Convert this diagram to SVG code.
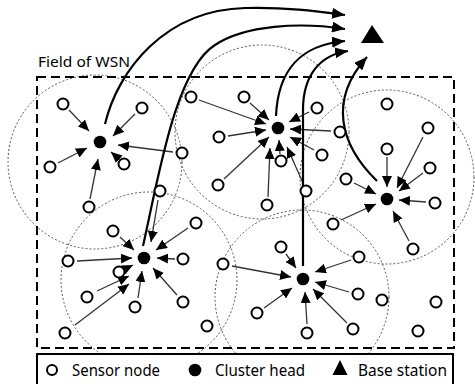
<svg xmlns="http://www.w3.org/2000/svg" width="475" height="384" viewBox="0 0 475 384">
  <style>
    .range { fill: none; stroke: #555; stroke-width: 1; stroke-dasharray: 2 2; }
    .field { fill: none; stroke: #000; stroke-width: 2; stroke-dasharray: 9 5; }
    .sn { fill: #fff; stroke: #000; stroke-width: 2; }
    .ch { fill: #000; }
    .link { stroke: #333; stroke-width: 1.3; fill: none; marker-end: url(#ah); }
    .uplink { stroke: #000; stroke-width: 2.2; fill: none; marker-end: url(#ahBig); }
    .lbl { font-family: "Noto Sans", "Open Sans", "Liberation Sans", sans-serif; fill: #000; }
  </style>
  <defs>
    <marker id="ah" markerUnits="userSpaceOnUse" markerWidth="11" markerHeight="10" refX="11" refY="5" orient="auto">
      <path d="M0,0 L11,5 L0,10 Z" fill="#000"/>
    </marker>
    <marker id="ahBig" markerUnits="userSpaceOnUse" markerWidth="13" markerHeight="11" refX="13" refY="5.5" orient="auto">
      <path d="M0,0 L13,5.5 L0,11 Z" fill="#000"/>
    </marker>
  </defs>

  <rect width="475" height="384" fill="#fff"/>

  <!-- communication ranges of the clusters -->
  <g id="ranges">
    <circle class="range" cx="95" cy="162" r="87"/>
    <circle class="range" cx="262" cy="132" r="87"/>
    <circle class="range" cx="387" cy="177" r="87"/>
    <circle class="range" cx="149" cy="280" r="88"/>
    <circle class="range" cx="302" cy="297" r="87"/>
  </g>

  <!-- deployment field -->
  <g id="field">
    <rect class="field" x="37" y="77" width="417" height="271"/>
    <text class="lbl" x="38" y="67" font-size="15" textLength="92" lengthAdjust="spacingAndGlyphs">Field of WSN</text>
  </g>

  <!-- connectors -->
  <g id="connectors">
    <!-- members to cluster head 1 -->
    <line class="link" x1="69" y1="110" x2="89" y2="131"/>
    <line class="link" x1="135" y1="114" x2="113" y2="136"/>
    <line class="link" x1="173" y1="152" x2="118" y2="145"/>
    <line class="link" x1="119.5" y1="159.5" x2="111" y2="152"/>
    <line class="link" x1="58" y1="163" x2="87" y2="148"/>
    <line class="link" x1="90" y1="199" x2="98" y2="159"/>
    <!-- members to cluster head 2 -->
    <line class="link" x1="199" y1="100" x2="266" y2="124"/>
    <line class="link" x1="250" y1="103" x2="269" y2="120"/>
    <line class="link" x1="228" y1="136" x2="266" y2="130"/>
    <line class="link" x1="224" y1="179" x2="269" y2="137"/>
    <line class="link" x1="280" y1="154" x2="279" y2="140"/>
    <line class="link" x1="268" y1="197" x2="270" y2="148"/>
    <line class="link" x1="303" y1="183" x2="287" y2="147"/>
    <line class="link" x1="309" y1="112" x2="289" y2="122"/>
    <line class="link" x1="331" y1="131" x2="290" y2="129"/>
    <line class="link" x1="314" y1="150" x2="290" y2="137"/>
    <!-- members to cluster head 3 -->
    <line class="link" x1="387" y1="157" x2="387" y2="187"/>
    <line class="link" x1="423" y1="137" x2="397" y2="188"/>
    <line class="link" x1="423" y1="173" x2="399" y2="191"/>
    <line class="link" x1="426" y1="202" x2="399" y2="200"/>
    <line class="link" x1="409" y1="241" x2="393" y2="211"/>
    <line class="link" x1="354" y1="183" x2="376" y2="194"/>
    <line class="link" x1="341" y1="220" x2="376" y2="204"/>
    <!-- members to cluster head 4 -->
    <line class="link" x1="158" y1="200" x2="151" y2="242"/>
    <line class="link" x1="188" y1="228" x2="156" y2="250"/>
    <line class="link" x1="120" y1="237" x2="134" y2="250"/>
    <line class="link" x1="77" y1="261" x2="132" y2="258"/>
    <line class="link" x1="175" y1="259" x2="157" y2="258"/>
    <line class="link" x1="125" y1="269" x2="133" y2="265"/>
    <line class="link" x1="97" y1="291" x2="129" y2="276"/>
    <line class="link" x1="75" y1="325" x2="129" y2="284"/>
    <line class="link" x1="138" y1="298" x2="142" y2="271"/>
    <line class="link" x1="177" y1="295" x2="153" y2="268"/>
    <!-- members to cluster head 5 -->
    <line class="link" x1="286" y1="254" x2="296" y2="268"/>
    <line class="link" x1="232" y1="266" x2="291" y2="277"/>
    <line class="link" x1="264" y1="308" x2="292" y2="288"/>
    <line class="link" x1="307" y1="324" x2="305" y2="292"/>
    <line class="link" x1="347" y1="323" x2="313" y2="289"/>
    <line class="link" x1="349" y1="292" x2="315" y2="282"/>
    <line class="link" x1="351" y1="260" x2="315" y2="272"/>
    <!-- cluster heads to base station -->
    <path class="uplink" d="M105,124 C118,70 165,10 245,8 C285,7 315,11 345,15"/>
    <path class="uplink" d="M143,246 C158,180 175,70 215,45 C245,25 300,22 345,29"/>
    <path class="uplink" d="M276,116 C278,70 300,45 345,41"/>
    <path class="uplink" d="M303,266 L303,110 C303,75 320,55 348,51"/>
    <path class="uplink" d="M377,181 C340,145 328,100 367,57"/>
  </g>

  <!-- sensor nodes -->
  <g id="s1"><circle class="sn" cx="63" cy="104" r="5.5"/></g>
  <g id="s2"><circle class="sn" cx="142" cy="108" r="5.5"/></g>
  <g id="s3"><circle class="sn" cx="182" cy="153" r="5.5"/></g>
  <g id="s4"><circle class="sn" cx="124" cy="164" r="5.5"/></g>
  <g id="s5"><circle class="sn" cx="50" cy="167" r="5.5"/></g>
  <g id="s6"><circle class="sn" cx="89" cy="207" r="5.5"/></g>
  <g id="s7"><circle class="sn" cx="191" cy="97" r="5.5"/></g>
  <g id="s8"><circle class="sn" cx="244" cy="97" r="5.5"/></g>
  <g id="s9"><circle class="sn" cx="219" cy="137" r="5.5"/></g>
  <g id="s10"><circle class="sn" cx="218" cy="185" r="5.5"/></g>
  <g id="s11"><circle class="sn" cx="281" cy="161" r="5.5"/></g>
  <g id="s12"><circle class="sn" cx="267" cy="205" r="5.5"/></g>
  <g id="s13"><circle class="sn" cx="306" cy="191" r="5.5"/></g>
  <g id="s14"><circle class="sn" cx="317" cy="108" r="5.5"/></g>
  <g id="s15"><circle class="sn" cx="340" cy="132" r="5.5"/></g>
  <g id="s16"><circle class="sn" cx="322" cy="155" r="5.5"/></g>
  <g id="s17"><circle class="sn" cx="387" cy="104" r="5.5"/></g>
  <g id="s18"><circle class="sn" cx="387" cy="149" r="5.5"/></g>
  <g id="s19"><circle class="sn" cx="428" cy="128" r="5.5"/></g>
  <g id="s20"><circle class="sn" cx="430" cy="168" r="5.5"/></g>
  <g id="s21"><circle class="sn" cx="435" cy="203" r="5.5"/></g>
  <g id="s22"><circle class="sn" cx="413" cy="249" r="5.5"/></g>
  <g id="s23"><circle class="sn" cx="346" cy="179" r="5.5"/></g>
  <g id="s24"><circle class="sn" cx="333" cy="224" r="5.5"/></g>
  <g id="s25"><circle class="sn" cx="160" cy="191" r="5.5"/></g>
  <g id="s26"><circle class="sn" cx="196" cy="223" r="5.5"/></g>
  <g id="s27"><circle class="sn" cx="113" cy="231" r="5.5"/></g>
  <g id="s28"><circle class="sn" cx="68" cy="261" r="5.5"/></g>
  <g id="s29"><circle class="sn" cx="183" cy="259" r="5.5"/></g>
  <g id="s30"><circle class="sn" cx="119" cy="272" r="5.5"/></g>
  <g id="s31"><circle class="sn" cx="87" cy="297" r="5.5"/></g>
  <g id="s32"><circle class="sn" cx="65" cy="333" r="5.5"/></g>
  <g id="s33"><circle class="sn" cx="135" cy="307" r="5.5"/></g>
  <g id="s34"><circle class="sn" cx="183" cy="302" r="5.5"/></g>
  <g id="s35"><circle class="sn" cx="281" cy="247" r="5.5"/></g>
  <g id="s36"><circle class="sn" cx="223" cy="264" r="5.5"/></g>
  <g id="s37"><circle class="sn" cx="257" cy="313" r="5.5"/></g>
  <g id="s38"><circle class="sn" cx="307" cy="333" r="5.5"/></g>
  <g id="s39"><circle class="sn" cx="353" cy="329" r="5.5"/></g>
  <g id="s40"><circle class="sn" cx="358" cy="294" r="5.5"/></g>
  <g id="s41"><circle class="sn" cx="359" cy="257" r="5.5"/></g>
  <g id="s42"><circle class="sn" cx="207" cy="326" r="5.5"/></g>
  <g id="s43"><circle class="sn" cx="382" cy="300" r="5.5"/></g>
  <g id="s44"><circle class="sn" cx="436" cy="302" r="5.5"/></g>
  <g id="s45"><circle class="sn" cx="418" cy="331" r="5.5"/></g>

  <!-- cluster heads -->
  <g id="ch1"><circle class="ch" cx="100" cy="142" r="6.3"/></g>
  <g id="ch2"><circle class="ch" cx="278" cy="128" r="6.3"/></g>
  <g id="ch3"><circle class="ch" cx="387" cy="199" r="6.3"/></g>
  <g id="ch4"><circle class="ch" cx="144" cy="258" r="6.3"/></g>
  <g id="ch5"><circle class="ch" cx="303" cy="279" r="6.3"/></g>

  <!-- base station -->
  <g id="bs"><polygon points="372,25 361,43 384,43" fill="#000"/></g>

  <!-- legend -->
  <g id="legend">
    <rect x="37" y="354" width="416" height="40" fill="#fff" stroke="#000" stroke-width="2"/>
    <circle class="sn" cx="52" cy="370" r="5"/>
    <text class="lbl" x="72" y="376" font-size="16" textLength="88" lengthAdjust="spacingAndGlyphs">Sensor node</text>
    <circle class="ch" cx="195" cy="370" r="6.3"/>
    <text class="lbl" x="215" y="376" font-size="16" textLength="90" lengthAdjust="spacingAndGlyphs">Cluster head</text>
    <polygon points="340,360 332.5,375 347.5,375" fill="#000"/>
    <text class="lbl" x="358" y="376" font-size="16" textLength="89" lengthAdjust="spacingAndGlyphs">Base station</text>
  </g>
</svg>
